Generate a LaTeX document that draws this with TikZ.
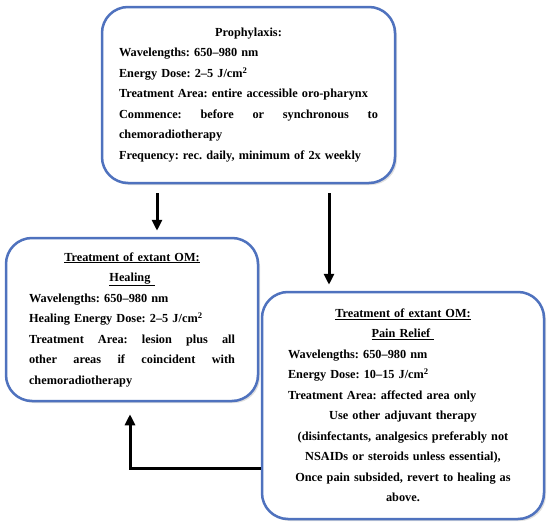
\documentclass[tikz,border=0pt]{standalone}
\usepackage{fontspec}
\setmainfont{Liberation Serif}
\usetikzlibrary{arrows.meta}
\usetikzlibrary{positioning}
\usetikzlibrary{shadows}
\definecolor{boxblue}{RGB}{79,114,190}
\newcommand{\midline}[1]{\hspace*{\fill}#1\hspace*{\fill}\null}

\begin{document}
\begin{tikzpicture}[x=1pt,y=-1pt,
  every node/.style={draw=boxblue,line width=2.5pt,rounded corners=26pt,fill=white,
    drop shadow={opacity=0.25,shadow xshift=2pt,shadow yshift=-2pt},
    font=\fontsize{12.3}{20.5}\selectfont\bfseries\frenchspacing,align=left,inner sep=0pt},
  flow/.style={line width=3pt,-{Triangle[length=11pt,width=10pt]}}]
  \useasboundingbox (0,0) rectangle (550,530);

  \node (prophy) at (248.5,95) [minimum width=293pt,minimum height=176pt,text width=259pt]{%
    \midline{Prophylaxis:}\\
    Wavelengths: 650--980 nm\\
    Energy Dose: 2--5 J/cm\textsuperscript{2}\\
    Treatment Area: entire accessible oro-pharynx\\
    Commence:\hfill before\hfill or\hfill synchronous\hfill to\\
    chemoradiotherapy\\
    Frequency: rec. daily, minimum of 2x weekly};
  \node (heal) at (132,319.5) [minimum width=252pt,minimum height=163pt,text width=206pt]{%
    \midline{\underline{Treatment of extant OM:}}\\
    \midline{\underline{Healing\ }}\\
    Wavelengths: 650--980 nm\\
    Healing Energy Dose: 2--5 J/cm\textsuperscript{2}\\
    Treatment\hfill Area:\hfill lesion\hfill plus\hfill all\\
    other\hfill areas\hfill if\hfill coincident\hfill with\\
    chemoradiotherapy};
  \node (pain) at (403,405.5) [minimum width=282pt,minimum height=227pt,text width=230pt]{%
    \midline{\underline{Treatment of extant OM:}}\\
    \midline{\underline{Pain Relief\ }}\\
    Wavelengths: 650--980 nm\\
    Energy Dose: 10--15 J/cm\textsuperscript{2}\\
    Treatment Area: affected area only\\
    \midline{Use other adjuvant therapy}\\
    \midline{(disinfectants, analgesics preferably not}\\
    \midline{NSAIDs or steroids unless essential),}\\
    \midline{Once pain subsided, revert to healing as}\\
    \midline{above.}};

  \draw[flow]([xshift=-91.5pt,yshift=-9pt]prophy.south)--([xshift=25pt,yshift=6pt]heal.north);
  \draw[flow]([xshift=80.5pt,yshift=-9pt]prophy.south)--([xshift=-74pt,yshift=6pt]pain.north);
  \draw[flow]([yshift=-62.5pt]pain.west)-|([xshift=-2pt,yshift=-12pt]heal.south);
\end{tikzpicture}
\end{document}
